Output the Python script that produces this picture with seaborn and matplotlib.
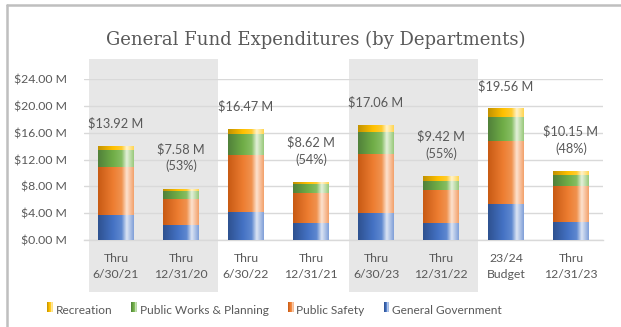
import numpy as np
import matplotlib
matplotlib.use("Agg")
import matplotlib.pyplot as plt
import seaborn as sns
import pandas as pd
from matplotlib.colors import LinearSegmentedColormap
from matplotlib.patches import Rectangle
from matplotlib.transforms import blended_transform_factory
from matplotlib.lines import Line2D
from matplotlib.legend_handler import HandlerBase

# ---- data ($ millions) ----
periods = ["Thru\n6/30/21", "Thru\n12/31/20", "Thru\n6/30/22", "Thru\n12/31/21",
           "Thru\n6/30/23", "Thru\n12/31/22", "23/24\nBudget", "Thru\n12/31/23"]
general_government = [3.62, 2.09, 4.17, 2.43, 4.02, 2.53, 5.22, 2.68]
public_safety      = [7.21, 4.02, 8.45, 4.57, 8.65, 4.77, 9.43, 5.22]
public_works       = [2.47, 1.09, 3.03, 1.20, 3.28, 1.49, 3.68, 1.64]
recreation         = [0.62, 0.38, 0.82, 0.42, 1.11, 0.63, 1.23, 0.61]
pct_of_year = ["", "(53%)", "", "(54%)", "", "(55%)", "", "(48%)"]
y_ticks = [0, 4, 8, 12, 16, 20, 24]
shaded_groups = [(0, 1), (4, 5)]

series = [  # bottom to top
    ("General Government", general_government, ["#2E5190", "#4472C4", "#5E88D0", "#DCE5F4", "#7F9FD8"]),
    ("Public Safety", public_safety, ["#C75A14", "#ED7D31", "#F0924F", "#FDE2CF", "#F3A06A"]),
    ("Public Works & Planning", public_works, ["#50803A", "#70AD47", "#86BE63", "#E4F1DB", "#98C97A"]),
    ("Recreation", recreation, ["#C29200", "#FFC000", "#FFCB2E", "#FFF3CC", "#FFD54F"]),
]
grad_pos = [0.0, 0.42, 0.66, 0.80, 1.0]

df = pd.DataFrame({"period": periods})
bottoms = np.zeros(len(periods))
stack = []
for name, vals, cols in series:
    top = bottoms + np.array(vals)
    stack.append((name, bottoms.copy(), top.copy(), cols))
    bottoms = top
totals = bottoms

TEXT = "#595959"
sns.set_style("white")
plt.rcParams["font.family"] = ["Lato", "DejaVu Sans"]

fig = plt.figure(figsize=(6.21, 3.27), dpi=100)
ax = fig.add_axes([0.1345, 0.266, 0.8373, 0.4924])

# stacked bars: tallest cumulative first so lower segments sit on top
for name, lo, hi, cols in reversed(stack):
    df["cum"] = hi
    sns.barplot(data=df, x="period", y="cum", color=cols[1], width=0.55,
                saturation=1, ax=ax, zorder=2, linewidth=0)

# cylinder-like horizontal shading on each segment
n = len(periods)
patches = ax.patches  # order: reversed stack, n per series
grad = np.linspace(0, 1, 256).reshape(1, -1)
for s_idx, (name, lo, hi, cols) in enumerate(reversed(stack)):
    cmap = LinearSegmentedColormap.from_list(name, list(zip(grad_pos, cols)))
    for i in range(n):
        p = patches[s_idx * n + i]
        x0 = p.get_x()
        x1 = x0 + p.get_width()
        ax.imshow(grad, cmap=cmap, extent=[x0, x1, lo[i], hi[i]], aspect="auto",
                  interpolation="bilinear", zorder=3)

ax.set_xlim(-0.5, n - 0.5)
ax.set_ylim(0, 24)

# shaded comparison bands
btrans = blended_transform_factory(ax.transData, ax.transAxes)
for a, b in shaded_groups:
    ax.add_patch(Rectangle((a - 0.415, -0.323), (b - a) + 0.985, 1.447, transform=btrans,
                           facecolor="#E7E7E7", edgecolor="none", clip_on=False, zorder=0.2))

# value labels
for i in range(n):
    txt = f"${totals[i]:.2f} M"
    if pct_of_year[i]:
        txt += "\n" + pct_of_year[i]
    ax.annotate(txt, (i, totals[i]), xytext=(0, 12), textcoords="offset points",
                ha="center", va="bottom", fontsize=9.2, color=TEXT, linespacing=1.45)

ax.set_yticks(y_ticks)
ax.set_yticklabels([f"${v:.2f} M" for v in y_ticks])
ax.set_xticks(range(n))
ax.set_xticklabels(periods, linespacing=1.6)
ax.tick_params(axis="both", length=0, labelsize=8.8, labelcolor=TEXT)
ax.tick_params(axis="y", pad=12)
ax.tick_params(axis="x", pad=9)
ax.set_xlabel("")
ax.set_ylabel("")
ax.set_axisbelow(True)
ax.yaxis.grid(True, color="#D9D9D9", linewidth=1.0, zorder=0.5)
ax.grid(axis="x", visible=False)
for side in ["left", "right", "top"]:
    ax.spines[side].set_visible(False)
ax.spines["bottom"].set_color("#D9D9D9")
ax.spines["bottom"].set_linewidth(1.0)
ax.patch.set_alpha(0)

fig.text(0.509, 0.878, "General Fund Expenditures (by Departments)", ha="center", va="center",
         fontsize=13.0, color=TEXT, family=["DejaVu Serif"])


# legend with small shaded swatches
class GradHandler(HandlerBase):
    def create_artists(self, legend, orig_handle, xd, yd, w, h, fontsize, trans):
        cmap = orig_handle.cmap
        arts = []
        k = 6
        for j in range(k):
            r = Rectangle((xd + w * j / k, yd), w / k, h,
                          facecolor=cmap((j + 0.5) / k), edgecolor="none", transform=trans)
            arts.append(r)
        return arts


class GradKey:
    def __init__(self, cmap):
        self.cmap = cmap


handles, labels = [], []
for name, lo, hi, cols in reversed(stack):
    handles.append(GradKey(LinearSegmentedColormap.from_list(name + "_k", list(zip(grad_pos, cols)))))
    labels.append(name)
fig.legend(handles, labels, handler_map={GradKey: GradHandler()}, loc="center",
           bbox_to_anchor=(0.442, 0.052), ncol=4, frameon=False, fontsize=8.6,
           handlelength=0.5, handleheight=1.0, handletextpad=0.2, columnspacing=1.6,
           labelcolor=TEXT)

# chart frame (top and left edges)
fig.add_artist(Line2D([0.0113, 1.0], [0.984, 0.984], transform=fig.transFigure, color="#BFBFBF", lw=1.8))
fig.add_artist(Line2D([0.0113, 0.0113], [0.0, 0.984], transform=fig.transFigure, color="#BFBFBF", lw=1.8))

fig.savefig("out.png", dpi=100)
